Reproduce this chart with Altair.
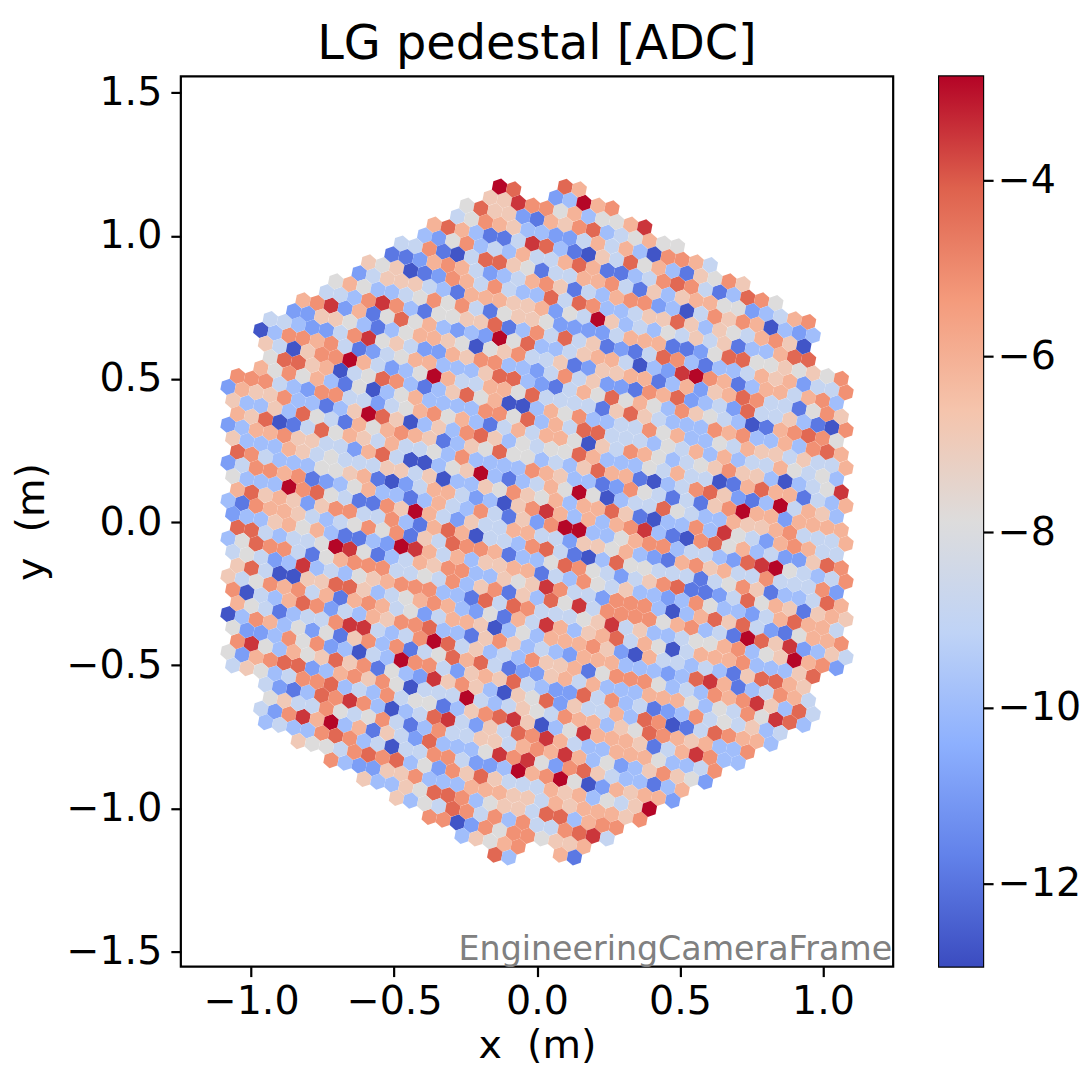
import math
import altair as alt
import pandas as pd

# Pixel colour levels, one string per sloped row of the camera (top row first).
LEVEL_VALUES = {"0": -12.74, "1": -11.9, "2": -10.9, "3": -9.9, "4": -8.9, "5": -7.9,
                "6": -6.9, "7": -6.1, "8": -5.15, "9": -4.25, "A": -3.5, "B": -2.85}
ROWS = {
    27: "97", 26: "B923B78", 25: "66A88573557A", 24: "5966217689345755",
    23: "4587633224747308874", 22: "79731 14A93 10649 57316 586",
    21: "32583 43744 79711 34898 41398 5", 20: "44810 49965 14477 84163 67755 23478",
    19: "11278 74234 78614 37882 30486 87032 3", 18: "65601 28748 43394 98334 66963 65478 60",
    17: "24666 43177 76672 54B63 43546 46133 799", 16: "57533 45858 41566 52222 47771 12599 55656 58",
    15: "4438A 83155 66913 84946 12149 83133 47672 448", 14: "78A27 15957 3232B 59334 67740 32AB8 71377 4783",
    13: "22665 31357 76505 68446 12667 71372 67984 41586", 12: "44322 48A56 42276 88332 48462 21879 23429 44631 08",
    11: "03887 84124 57733 36993 21475 95753 86543 01789 85", 10: "64068 8B742 35B74 47759 44441 69643 33878 33738 97",
    9: "59967 04598 31369 57003 75833 44857 33547 66464 47", 8: "75857 31503 57333 38859 37499 44435 47373 44754 53",
    7: "88843 28844 24578 57314 74775 06487 53456 86630 345A", 6: "27668 33136 B9603 63896 35455 97333 54744 01797 71437",
    5: "63363 95417 57876 13659 55343 69771 03489 6213B 4763", 4: "76901 49576 47445 38333 38763 31285 41416 8B772 7777",
    3: "23778 66442 79400 356B3 13475 B5034 49543 37667 84447", 2: "63337 64544 46646 03365 86573 77961 03383 A5427 8744",
    1: "98433 35567 10247 74230 68A73 7378A 31089 57342 2698", 0: "24887 81235 73313 74384 1628B B3357 88344 329AB 54348",
    -1: "5333B 89541 186B7 42644 77442 66573 21786 74484 4482", -2: "79676 26884 48317 97044 38941 03955 44414 58613 3497",
    -3: "31877 64345 85816 49887 13359 85424 68911 24957 61676", -4: "23367 57311 32BA7 47366 77143 85463 32385 33247 9774",
    -5: "99434 45BA5 13476 88336 56A84 42888 30379 69421 5778", -6: "35988 41578 88445 48368 16395 A4888 85783 41B96 A2364",
    -7: "45423 A3435 67888 33194 98444 56A46 33455 78356 B782", -8: "69400 66996 34578 73251 74A73 67947 50477 78333 69",
    -9: "64587 84717 87452 47760 35377 78620 74434 31699 76", -10: "80437 98243 76889 33168 63432 77733 3239A 71348 74",
    -11: "75413 448AA 4348B 94634 38667 15888 53438 78A63 94", -12: "03873 52516 83814 59794 12267 47333 77753 5485A 93",
    -13: "52238 58230 43B88 42676 94322 94834 12384 54634", -14: "8A537 56968 1532A 68630 65926 44739 80149 8773",
    -15: "52789 92378 68504 44B43 46548 77365 98767 338", -16: "46534 88934 38455 13689 A6035 A7776 147A8 33",
    -17: "42139 8A830 349A4 26498 A7433 77753 348", -18: "56448 54584 13844 66478 7A735 23686 52",
    -19: "428A7 B3716 42933 35A8A 52896 43313 7", -20: "34338 98340 44884 223B7 8B502 76772",
    -21: "65548 98935 28696 44476 73546 B", -22: "83226 68333 77766 47677 768",
    -23: "63365 99835 66499 3788", -24: "63549 84838 4489A 4", -25: "88028 58856 67",
    -26: "3657871", -27: "93",
}
TICKS_X = [-1.0, -0.5, 0.0, 0.5, 1.0]
TICKS_Y = [-1.5, -1.0, -0.5, 0.0, 0.5, 1.0, 1.5]
TICKS_C = [-12, -10, -8, -6, -4]
CMAP_T = [0, .125, .25, .375, .5, .625, .75, .875, 1]
CMAP = ["#3b4cc0", "#6282ea", "#8db0fe", "#bfd3f6", "#dddcdc", "#f5c4ac", "#f49a7b", "#de614d", "#b40426"]
VMIN, VMAX = -12.94, -2.82

TILT = 10.9
PITCH = 0.05
a = (PITCH*math.cos(math.radians(-TILT)), PITCH*math.sin(math.radians(-TILT)))
b = (PITCH*math.cos(math.radians(120-TILT)), PITCH*math.sin(math.radians(120-TILT)))
# Camera layout: 265 seven-pixel modules on a hexagonal super-lattice without its six corners.
cells = set()
for p in range(-9, 10):
    for q in range(-9, 10):
        if max(abs(p), abs(q), abs(p+q)) > 9 or (p, q) in [(9,0),(0,9),(-9,9),(-9,0),(0,-9),(9,-9)]:
            continue
        ci, cj = 3*p+q, 2*p+3*q
        for di, dj in [(0,0),(1,0),(-1,0),(0,1),(0,-1),(1,1),(-1,-1)]:
            cells.add((ci+di, cj+dj))
by_row = {}
for i, j in cells:
    by_row.setdefault(j, []).append(i)
pts = []
for j, ii in by_row.items():
    for i, ch in zip(sorted(ii), ROWS[j].replace(" ", "")):
        pts.append({"x": i*a[0]+j*b[0], "y": i*a[1]+j*b[1], "v": LEVEL_VALUES[ch]})
df = pd.DataFrame(pts)

FONT = "DejaVu Sans"
LAB = 39.6
axis_style = dict(grid=False, domain=False, tickSize=10, tickWidth=2.2, tickColor="black", labelColor="black",
                  titleColor="black", labelFontSize=LAB, titleFontSize=LAB, labelFont=FONT, titleFont=FONT,
                  titleFontWeight="normal", labelFlush=False, labelOverlap=False)
xscale = alt.Scale(domain=[-1.2455, 1.2455], nice=False)
yscale = alt.Scale(domain=[-1.553, 1.557], nice=False)
xs = alt.X("x:Q", scale=xscale, axis=alt.Axis(values=TICKS_X, format=".1f", title="x\u00a0\u00a0(m)", titlePadding=5, labelPadding=6, **axis_style))
ys = alt.Y("y:Q", scale=yscale, axis=alt.Axis(values=TICKS_Y, format=".1f", title="y\u00a0\u00a0(m)", titlePadding=14, labelPadding=9, **axis_style))
color_scale = alt.Scale(domain=[VMIN+t*(VMAX-VMIN) for t in CMAP_T], range=CMAP, interpolate="rgb")
hexes = alt.Chart(df).mark_point(shape="M0,-1L0.866,-0.5L0.866,0.5L0,1L-0.866,0.5L-0.866,-0.5Z", filled=True,
                                 size=272, angle=TILT, opacity=1).encode(
    x=xs, y=ys, color=alt.Color("v:Q", scale=color_scale, legend=None))
stamp = alt.Chart(pd.DataFrame([{"x": 1.2455, "y": -1.553, "t": "EngineeringCameraFrame"}])).mark_text(
    align="right", baseline="alphabetic", fontSize=33.3, font=FONT, color="#808080", dy=-7, dx=-1).encode(
    x=alt.X("x:Q", scale=xscale), y=alt.Y("y:Q", scale=yscale), text="t:N")
main = (hexes + stamp).properties(width=713, height=891,
    title=alt.TitleParams("LG pedestal [ADC]", fontSize=47.8, fontWeight="normal", font=FONT, color="black", offset=4))
grad = {"gradient": "linear", "x1": 0, "x2": 0, "y1": 1, "y2": 0,
        "stops": [{"offset": t, "color": c} for t, c in zip(CMAP_T, CMAP)]}
bar = alt.Chart(pd.DataFrame([{"lo": VMIN, "hi": VMAX}])).mark_rect(color=grad).encode(
    x=alt.value(0), x2=alt.value(44),
    y=alt.Y("lo:Q", scale=alt.Scale(domain=[VMIN, VMAX], nice=False),
            axis=alt.Axis(values=TICKS_C, format="d", title=None, orient="right", labelPadding=4, **axis_style)),
    y2="hi:Q").properties(width=44, height=891)
chart = alt.hconcat(main, bar, spacing=42).configure_view(stroke="black", strokeWidth=2.2).properties(
    padding={"left": 2, "top": 11, "right": 0, "bottom": 0})
chart.save("out.html", embed_options={"renderer": "svg", "actions": False})
